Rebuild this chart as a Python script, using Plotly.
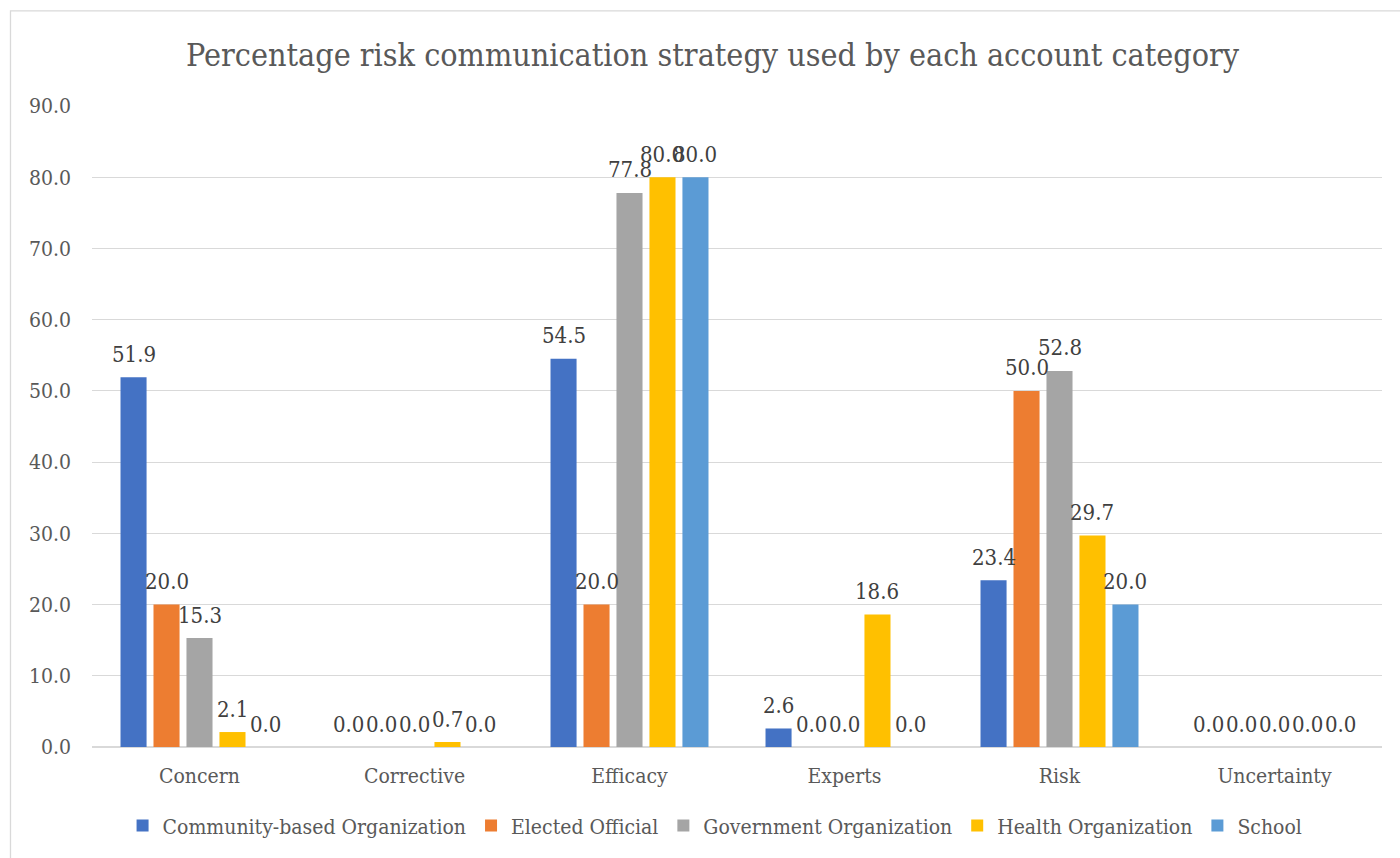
import plotly.graph_objects as go

categories = ["Concern", "Corrective", "Efficacy", "Experts", "Risk", "Uncertainty"]

community_based = [51.9, 0.0, 54.5, 2.6, 23.4, 0.0]
elected_official = [20.0, 0.0, 20.0, 0.0, 50.0, 0.0]
government_org = [15.3, 0.0, 77.8, 0.0, 52.8, 0.0]
health_org = [2.1, 0.7, 80.0, 18.6, 29.7, 0.0]
school = [0.0, 0.0, 80.0, 0.0, 20.0, 0.0]

series = [
    ("Community-based Organization", community_based, "#4472C4"),
    ("Elected Official", elected_official, "#ED7D31"),
    ("Government Organization", government_org, "#A5A5A5"),
    ("Health Organization", health_org, "#FFC000"),
    ("School", school, "#5B9BD5"),
]

FONT = "DejaVu Serif Condensed, DejaVu Serif"

W, H = 1400, 858
ml, mr, mt, mb = 92, 18, 106, 109
pw, ph = W - ml - mr, H - mt - mb
BARGAP, GROUPGAP = 0.233, 0.21

def px_x(x):
    return (x - ml) / pw

def px_y(y):
    return (H - mb - y) / ph

fig = go.Figure()
for name, vals, color in series:
    fig.add_trace(go.Bar(
        name=name,
        x=categories,
        y=vals,
        marker=dict(color=color, line=dict(width=0)),
    ))

# value labels sit above each bar, offset to the bar's slot within its group
slot_px = pw / len(categories) * (1 - BARGAP) / len(series)
annotations = []
for i, (name, vals, color) in enumerate(series):
    offset = (i - (len(series) - 1) / 2) * slot_px
    for cat, v in zip(categories, vals):
        annotations.append(dict(
            x=cat, y=v, xref="x", yref="y",
            text=f"{v:.1f}", showarrow=False,
            xanchor="center", yanchor="middle",
            xshift=offset, yshift=23,
            font=dict(family=FONT, size=22, color="#404040"),
        ))

fig.update_layout(
    width=W, height=H,
    margin=dict(l=ml, r=mr, t=mt, b=mb, pad=0),
    paper_bgcolor="white",
    plot_bgcolor="white",
    barmode="group",
    bargap=BARGAP,
    bargroupgap=GROUPGAP,
    font=dict(family=FONT, color="#595959"),
    title=dict(
        text="Percentage risk communication strategy used by each account category",
        font=dict(family=FONT, size=32, color="#595959"),
        x=0.509, xanchor="center",
        y=1 - 55 / H, yanchor="middle",
    ),
    xaxis=dict(
        showgrid=False,
        showline=False,
        ticks="",
        tickfont=dict(family=FONT, size=21, color="#595959"),
        ticklabelstandoff=14,
    ),
    yaxis=dict(
        range=[0, 90],
        dtick=10,
        tickformat=".1f",
        showgrid=True,
        gridcolor="#D9D9D9",
        gridwidth=1.3,
        zeroline=True,
        zerolinecolor="#D9D9D9",
        zerolinewidth=2,
        showline=False,
        ticks="",
        ticklabelstandoff=20,
        tickfont=dict(family=FONT, size=21, color="#595959"),
    ),
    legend=dict(
        orientation="h",
        x=0.483, xanchor="center",
        y=px_y(828), yanchor="middle",
        font=dict(family=FONT, size=21, color="#595959"),
        itemwidth=30,
        traceorder="normal",
    ),
    annotations=annotations,
    shapes=[dict(
        type="rect", xref="paper", yref="paper",
        x0=px_x(10.5), x1=1.2, y0=-0.5, y1=px_y(10.5),
        line=dict(color="#D9D9D9", width=1.3),
        fillcolor="rgba(0,0,0,0)",
        layer="below",
    )],
)

fig.write_html("out.html")
